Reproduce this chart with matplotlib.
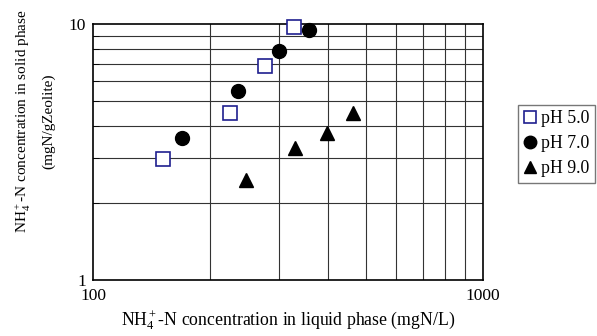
import numpy as np
import matplotlib.pyplot as plt
from matplotlib.ticker import FixedLocator, NullFormatter, FixedFormatter

plt.rcParams['font.family'] = ['Liberation Serif', 'DejaVu Serif']
plt.rcParams['mathtext.fontset'] = 'custom'
plt.rcParams['mathtext.rm'] = 'Liberation Serif'
plt.rcParams['mathtext.it'] = 'Liberation Serif:italic'

# liquid phase (mgN/L) and solid phase (mgN/gZeolite) concentrations
ph5_x = [151, 224.5, 276.6, 327]
ph5_y = [2.97, 4.50, 6.83, 9.73]
ph7_x = [169.4, 235.4, 300.4, 358.6]
ph7_y = [3.58, 5.49, 7.82, 9.48]
ph9_x = [246.4, 329.6, 399, 465]
ph9_y = [2.46, 3.27, 3.76, 4.48]

fig = plt.figure(figsize=(5.97, 3.36), dpi=100)
ax = fig.add_axes([93 / 597, 56 / 336, 390 / 597, 256 / 336])

ax.set_xscale('log')
ax.set_yscale('log')
ax.set_xlim(100, 1000)
ax.set_ylim(1, 10)

ax.plot(ph5_x, ph5_y, ls='none', marker='s', ms=9.5, mfc='white',
        mec='#1f1f8f', mew=1.2, label='pH 5.0', zorder=3, clip_on=False)
ax.plot(ph7_x, ph7_y, ls='none', marker='o', ms=10, mfc='black',
        mec='black', label='pH 7.0', zorder=3, clip_on=False)
ax.plot(ph9_x, ph9_y, ls='none', marker='^', ms=10, mfc='black',
        mec='black', label='pH 9.0', zorder=3, clip_on=False)

ax.xaxis.set_major_locator(FixedLocator([100, 1000]))
ax.xaxis.set_major_formatter(FixedFormatter(['100', '1000']))
ax.xaxis.set_minor_locator(FixedLocator(np.arange(200, 1000, 100)))
ax.xaxis.set_minor_formatter(NullFormatter())
ax.yaxis.set_major_locator(FixedLocator([1, 10]))
ax.yaxis.set_major_formatter(FixedFormatter(['1', '10']))
ax.yaxis.set_minor_locator(FixedLocator(np.arange(2, 10, 1)))
ax.yaxis.set_minor_formatter(NullFormatter())

ax.grid(True, which='minor', color='#333333', lw=0.8)
ax.tick_params(axis='both', which='major', length=0, labelsize=12.5)
ax.tick_params(axis='x', which='major', pad=6)
ax.tick_params(axis='y', which='major', pad=5)
ax.tick_params(axis='x', which='minor', length=0)
ax.tick_params(axis='y', which='minor', direction='in', length=4)
for s in ax.spines.values():
    s.set_linewidth(1.2)

ax.set_xlabel('NH$_4^+$-N concentration in liquid phase (mgN/L)', fontsize=12.8, labelpad=3)
ax.set_ylabel('NH$_4^+$-N concentration in solid phase\n(mgN/gZeolite)', fontsize=11,
              linespacing=1.8)
ax.yaxis.set_label_coords(-0.097, 0.62)

leg = fig.legend(loc='upper left', bbox_to_anchor=(518 / 597, 1 - 105 / 336),
                 frameon=True, fancybox=False, edgecolor='#555555', fontsize=12.8,
                 handlelength=0.8, handletextpad=0.2, borderpad=0.3,
                 labelspacing=0.45, borderaxespad=0, markerscale=0.9)
leg.get_frame().set_linewidth(1.0)

plt.savefig('out.png', dpi=100)
